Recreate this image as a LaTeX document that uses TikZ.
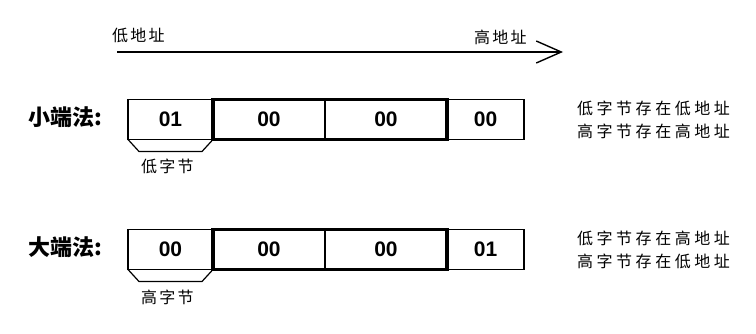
\documentclass[tikz,border=0pt]{standalone}
\usepackage{fontspec}
\newfontfamily\cjk{Noto Sans CJK SC}
\newfontfamily\cjknote{Noto Sans CJK SC}[LetterSpace=22]
\newfontfamily\cjktag{Noto Sans CJK SC}[LetterSpace=14]
\newfontfamily\digitfont{Liberation Sans}
\usetikzlibrary{arrows.meta,positioning,calc}
\tikzset{
    cell/.style={
        rectangle, draw=black, line width=1.5pt,
        minimum height=40pt, inner sep=0pt, outer sep=0pt,
        font=\digitfont\fontsize{21}{21}\selectfont\bfseries
    },
    block/.style={draw=black, line width=3.2pt},
    title/.style={font=\cjk\fontsize{22}{22}\selectfont\bfseries, inner sep=0pt},
    note/.style={font=\cjknote\fontsize{16}{23}\selectfont, align=left, inner sep=0pt, anchor=west},
    tag/.style={font=\cjktag\fontsize{16}{16}\selectfont, inner sep=0pt, anchor=west},
    addr/.style={line width=1.6pt, -{Straight Barb[length=25pt,width=22pt,line width=1.4pt]}},
    brace/.style={line width=1.2pt}
}

\begin{document}
\begin{tikzpicture}[x=1pt, y=-1pt]
\useasboundingbox (0,0) rectangle (756,334);

%% address direction
\node[tag] (lowaddr)  at (112,35) {低地址};
\node[tag] (highaddr) at (474,37) {高地址};
\coordinate (lo) at (117,52);
\coordinate (hi) at (563,52);
\draw[addr] (lo) -- (hi);

%% Row 1 - little endian, cells span [128,213] [213,325] [325,447] [447,524]
\node[title] (little) at (65,117) {小端法:};
\node[cell, minimum width=85pt]  (l1) at (170.5,119.5) {01};
\node[cell, minimum width=112pt] (l2) at (269,119.5)   {00};
\node[cell, minimum width=122pt] (l3) at (386,119.5)   {00};
\node[cell, minimum width=77pt]  (l4) at (485.5,119.5) {00};
\draw[block] (l2.north west) rectangle (l3.south east);
\draw[brace] (l1.south west) -- ++(11,12) -| ($(l1.south east)+(-11,12)$) -- (l1.south east);
\node[tag] (lowbyte) at (141,166) {低字节};
\node[note] (littlenote) at (577,120) {低字节存在低地址\\高字节存在高地址};

%% Row 2 - big endian, same columns
\node[title] (big) at (65,247) {大端法:};
\node[cell, minimum width=85pt]  (b1) at (170.5,249.5) {00};
\node[cell, minimum width=112pt] (b2) at (269,249.5)   {00};
\node[cell, minimum width=122pt] (b3) at (386,249.5)   {00};
\node[cell, minimum width=77pt]  (b4) at (485.5,249.5) {01};
\draw[block] (b2.north west) rectangle (b3.south east);
\draw[brace] (b1.south west) -- ++(11,12) -| ($(b1.south east)+(-11,12)$) -- (b1.south east);
\node[tag] (highbyte) at (141,297) {高字节};
\node[note] (bignote) at (577,250) {低字节存在高地址\\高字节存在低地址};

\end{tikzpicture}
\end{document}
